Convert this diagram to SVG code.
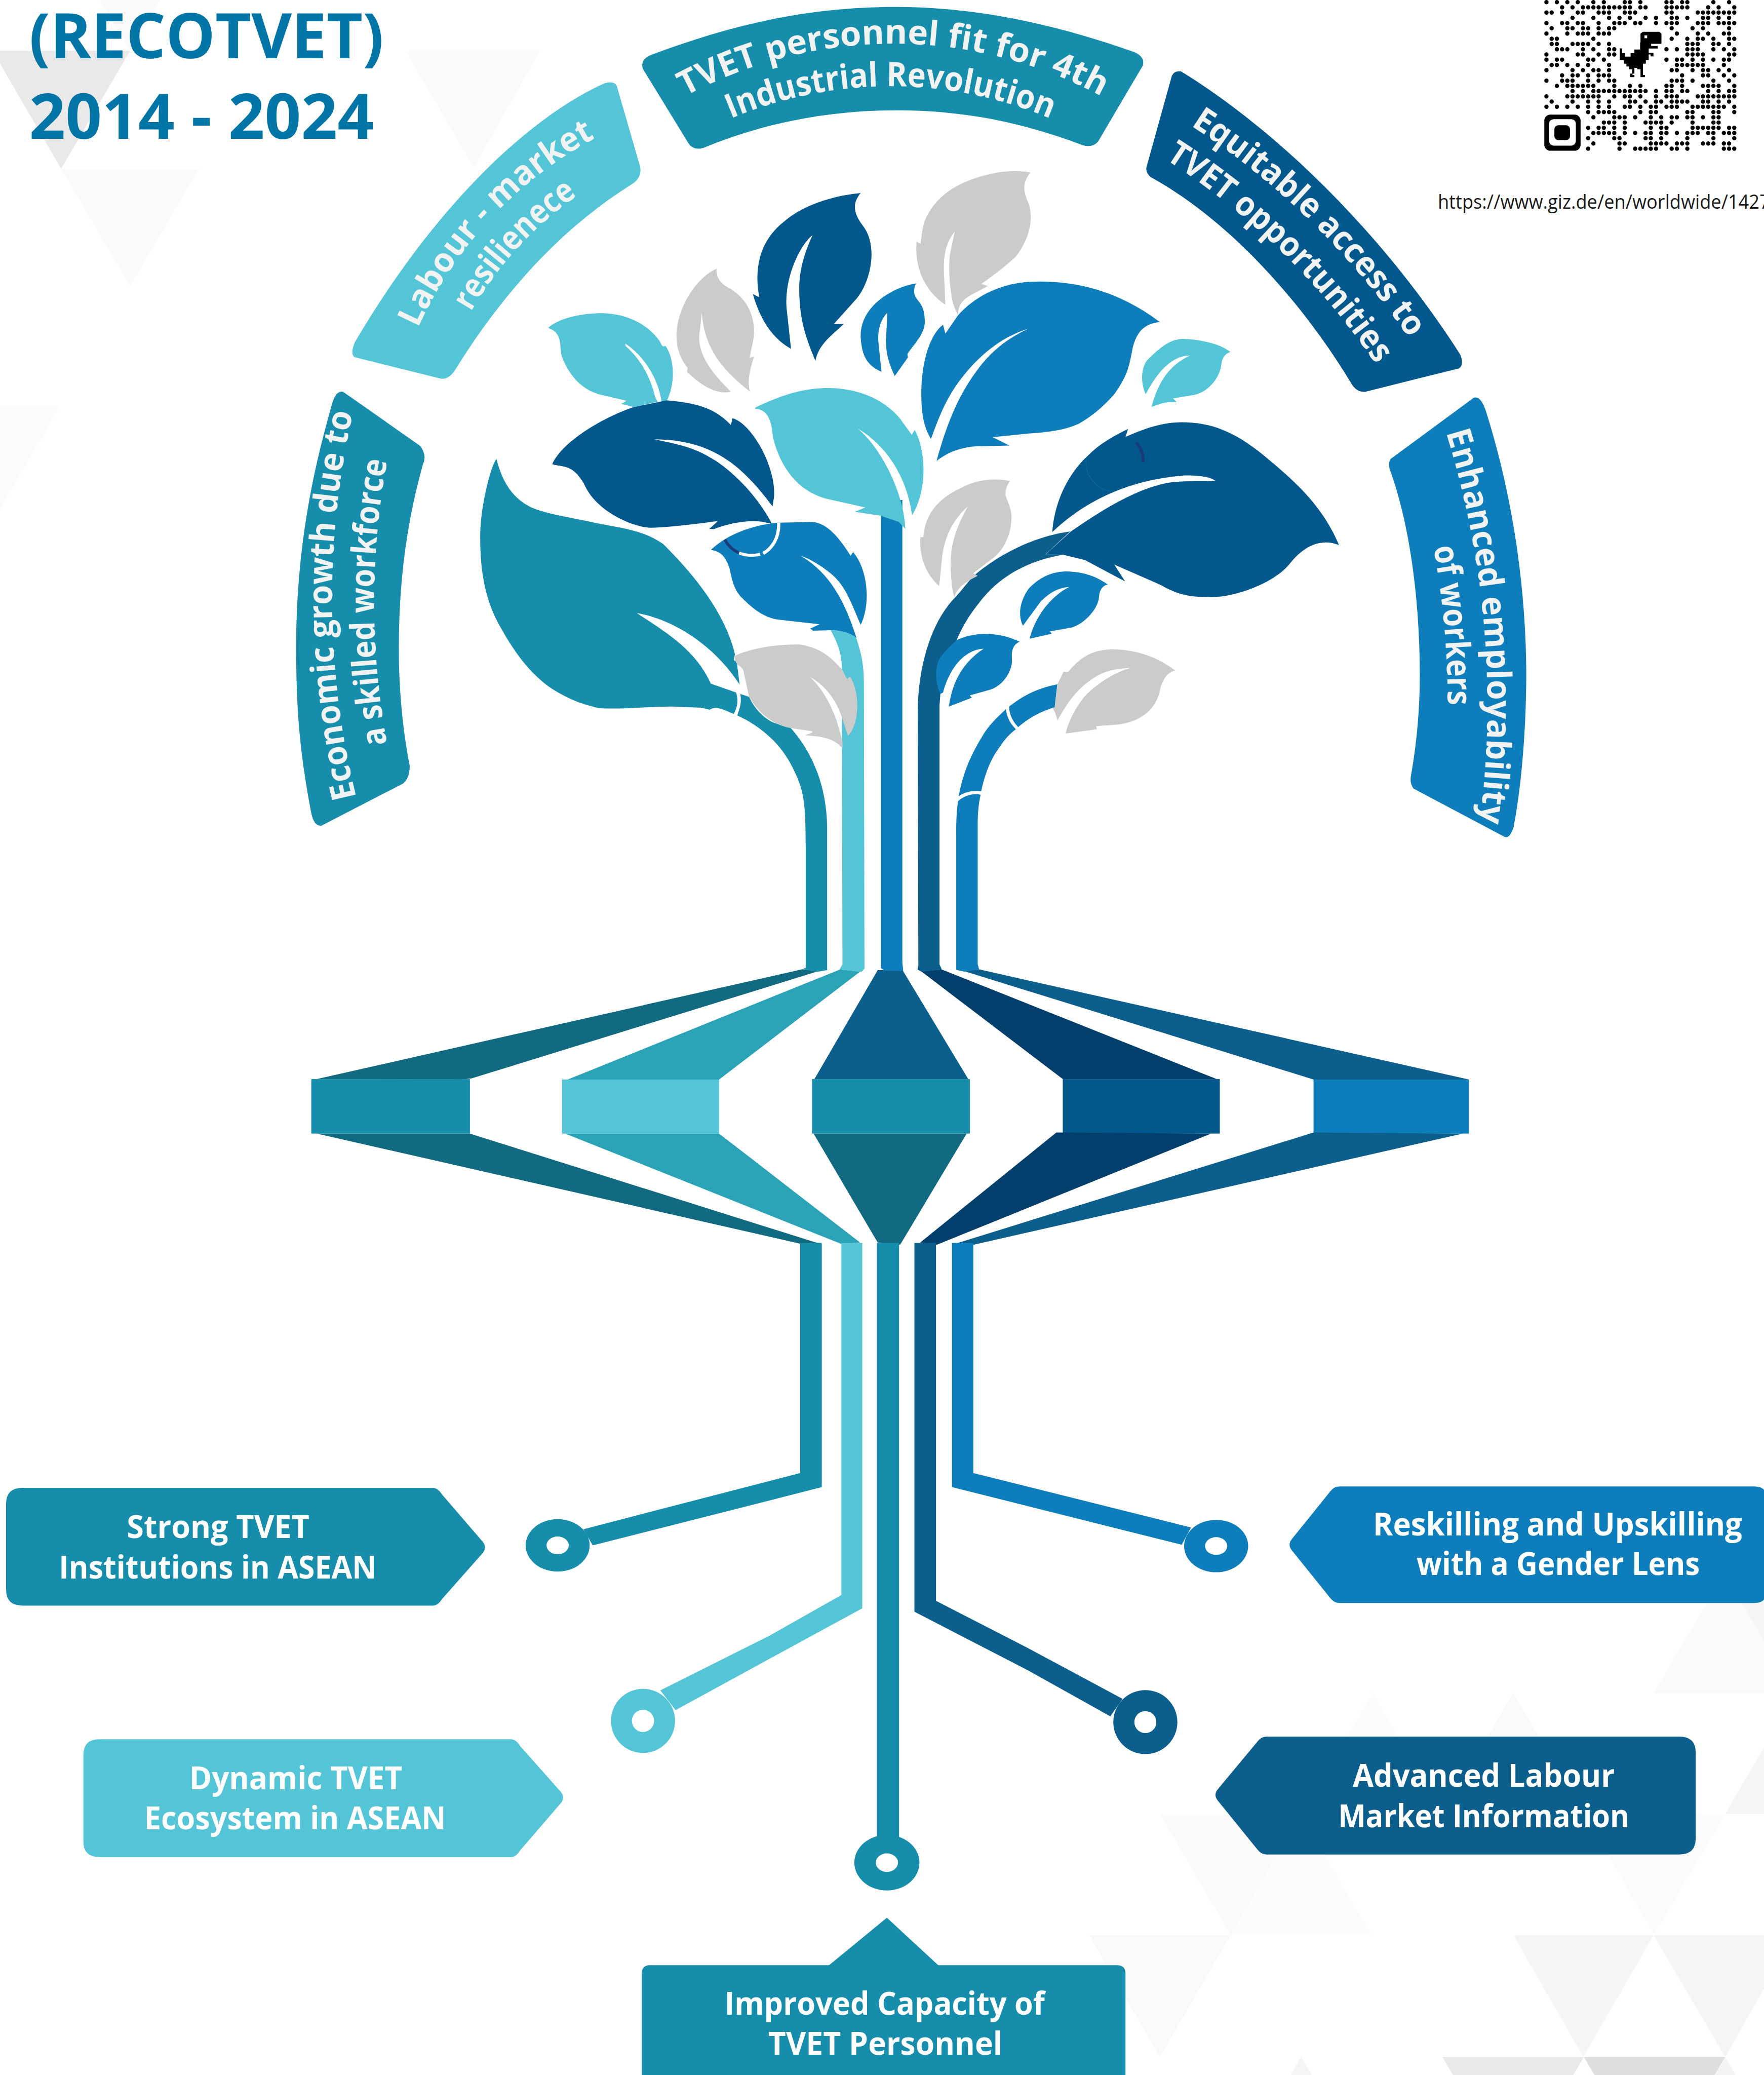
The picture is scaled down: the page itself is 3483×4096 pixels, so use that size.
<svg xmlns="http://www.w3.org/2000/svg" width="3483" height="4096" viewBox="0 0 3483 4096">
<style>
.teal{fill:#168eab}.light{fill:#54c5d7}.blue{fill:#0d7dbb}.dark{fill:#02578d}.mid{fill:#0c5f8c}.grey{fill:#cbcbcb}.dteal{fill:#116a80}.mteal{fill:#2aa3b7}.navy{fill:#033f6c}
text{font-family:"Open Sans","Liberation Sans",sans-serif}
.t{font-size:24px;font-weight:700;fill:#fff;text-anchor:middle}
.b{font-size:25.5px;font-weight:700;fill:#f1f2f2;text-anchor:middle}
.title{font-size:47.5px;font-weight:700;fill:#0275a7}
</style>
<defs>
<path id="a1" d="M505,80A331,331 0 0 1 845,80"/>
<path id="a2" d="M538,96A311,311 0 0 1 808,96"/>
<path id="a3" d="M292.8,325.3A305,305 0 0 1 525.4,75.8"/>
<path id="a4" d="M328.4,301.8A275,275 0 0 1 500,114.6"/>
<path id="a5" d="M305.4,707.8A629,629 0 0 1 301,206"/>
<path id="a6" d="M338,704A589,589 0 0 1 338,206"/>
<path id="a7" d="M781,35.5A588,588 0 0 1 1127,373"/>
<path id="a8" d="M770.2,65.5A556,556 0 0 1 1097.3,384.2"/>
<path id="a9" d="M996,132A689,689 0 0 1 1062.4,816.7"/>
<path id="a10" d="M974.8,154A659,659 0 0 1 1033.7,807.4"/>
</defs>
<rect width="3483" height="4096" fill="#fff"/>
<g transform="scale(2.6129)">
<g id="background">
<polygon points="0,38.4 98.3,38.4 46.2,127.5 0,48" fill="#e9e9e9"/>
<polygon points="46.2,127.5 150.5,127.5 98.3,216.3" fill="#fafafa"/>
<polygon points="75.5,0 121,0 98.3,38.4" fill="#fafafa"/>
<polygon points="306.4,38.4 408,38.4 358,127" fill="#fafafa"/>
<polygon points="0,307 45,307 0,385" fill="#fbfbfb"/>
<polygon points="1303,1188 1249.6,1279.2 1356,1279.2" fill="#fafafa"/>
<polygon points="1303,1188 1410,1188 1356,1279.2" fill="#f5f5f5"/>
<polygon points="1143.5,1279 1090,1370.4 1196.9,1370.4" fill="#f9f9f9"/>
<polygon points="1196.9,1370.4 1303.7,1370.4 1250,1462" fill="#fbfbfb"/>
<polygon points="1357,1279 1303.7,1370.4 1410,1370.4" fill="#f5f5f5"/>
<polygon points="1037.4,1279 983.2,1370.4 1090,1370.4" fill="#fcfcfc"/>
<polygon points="876.5,1370.4 983.2,1370.4 929.9,1462" fill="#fafafa"/>
<polygon points="929.9,1462 1036.7,1462 983.2,1370.4" fill="#fcfcfc"/>
<polygon points="823,1462 929.9,1462 876.5,1554" fill="#f9f9f9"/>
<polygon points="1143.5,1462 1249.6,1462 1196.5,1554" fill="#f6f6f6"/>
<polygon points="1249.6,1462 1356,1462 1303.7,1554" fill="#f5f5f5"/>
<polygon points="1090,1554 1196.9,1554 1143.5,1645" fill="#e9e9e9"/>
<polygon points="1196.9,1554 1303.7,1554 1250,1645" fill="#dedede"/>
<polygon points="983.2,1554 929.9,1645 1036.7,1645" fill="#f5f5f5"/>
<polygon points="1303.7,1554 1250,1645 1357,1645" fill="#f4f4f4"/>
</g>
<g id="title">
<text class="title" x="22" y="43.9" textLength="268" lengthAdjust="spacingAndGlyphs">(RECOTVET)</text>
<text class="title" x="22" y="104.9" textLength="260.5" lengthAdjust="spacingAndGlyphs">2014 - 2024</text>
</g>
<g id="connectors">
<g transform="translate(189.84,711.9) scale(.6054,.16144)">
<polygon class="dteal" points="688,126 708,135 275,637 262,642 82,640"/>
<rect class="teal" x="75" y="640" width="198" height="255"/>
<polygon class="dteal" points="82,895 273,895 705,1405 712,1407 685,1410"/>
<polygon class="mteal" points="735,127 760,137 584,642 395,642"/>
<rect class="light" x="388" y="642" width="196" height="253"/>
<polygon class="mteal" points="392,895 584,895 760,1405 737,1412"/>
<polygon class="mid" points="782,130 813,130 895,640 703,640"/>
<rect class="teal" x="700" y="640" width="197" height="255"/>
<polygon class="dteal" points="702,895 893,895 810,1415 782,1405"/>
<polygon class="navy" points="836,135 862,127 1205,640 1013,640"/>
<rect class="dark" x="1013" y="640" width="196" height="255"/>
<polygon class="navy" points="1005,890 1198,895 856,1415 835,1405"/>
<polygon class="mid" points="890,135 908,126 1520,642 1326,642"/>
<rect class="blue" x="1326" y="642" width="194" height="253"/>
<polygon class="mid" points="1326,890 1512,895 902,1415 875,1415"/>
</g>
<polygon class="teal" points="604.7,939 621,939 621,1123.5 447.9,1167.5 440.9,1155.3 604.7,1112.8"/>
<ellipse class="teal" cx="421.4" cy="1167.5" rx="24.2" ry="19.8"/><ellipse cx="421.4" cy="1167.5" rx="8.4" ry="6.7" fill="#fff"/>
<polygon class="light" points="635.8,939 651.6,939 651.6,1215 580,1254 510.5,1292 499,1277 581,1236 635.8,1205"/>
<circle class="light" cx="485.9" cy="1300.1" r="24.2"/><circle cx="485.9" cy="1300.1" r="8.4" fill="#fff"/>
<rect class="teal" x="662.7" y="939" width="16.7" height="450"/>
<ellipse class="teal" cx="670.2" cy="1407.2" rx="24.6" ry="21"/><ellipse cx="670.2" cy="1407.2" rx="8.4" ry="7" fill="#fff"/>
<polygon class="mid" points="691,939 707.3,939 707.3,1209.4 776.6,1245 848.3,1283.4 839,1296.6 777,1262 691,1217.6"/>
<circle class="mid" cx="865.5" cy="1301" r="24.2"/><circle cx="865.5" cy="1301" r="8.3" fill="#fff"/>
<polygon class="blue" points="719.4,939 735.5,939 735.5,1112.8 900,1154 893,1167 719.4,1123.5"/>
<ellipse class="blue" cx="919" cy="1168" rx="24.2" ry="19.8"/><ellipse cx="919" cy="1168" rx="8.4" ry="6.7" fill="#fff"/>
</g>
<g id="tree">
<g transform="translate(348.05,395.5) scale(.22197)">
<path class="blue" d="M1431,-80H1504V1495L1507,1522H1445L1431,1513Z"/>
<path class="light" d="M1260,363C1285,410 1298,445 1298,495L1300,1500L1290,1518L1365,1526L1375,1515L1373,540C1373,470 1360,430 1347,390C1325,370 1300,365 1260,363Z"/>
<path class="teal" d="M952,580C958,610 950,630 942,653C1000,680 1080,730 1130,830C1170,910 1175,950 1175,1100L1175,1512L1165,1516L1212,1526L1248,1520L1248,1030C1245,880 1190,770 1125,697C1110,685 1090,688 1060,675C1030,660 1000,630 982,590Z"/>
<path class="teal" d="M122,-220C100,-190 68,-50 67,30C65,150 80,260 140,360C190,450 240,510 300,555C360,595 410,615 470,628C550,634 650,622 720,623L820,627L848,634C870,620 885,630 930,648C945,620 945,600 938,575L852,545C800,430 700,370 600,305C720,325 860,410 950,548L940,470L930,465L934,445C900,300 790,170 690,70C620,20 540,15 460,-2C380,-20 300,-30 240,-55C170,-90 140,-150 122,-220Z"/>
<path class="grey" d="M934,450C1000,420 1090,410 1155,412C1240,425 1270,470 1298,495L1316,530L1325,520C1360,570 1360,680 1319,723L1300,665C1280,600 1240,550 1190,522C1240,570 1265,630 1280,670L1300,740L1300,765C1270,730 1230,725 1173,721L1197,712L1197,707L1122,696C1060,685 1010,640 982,590L965,510C960,480 940,490 934,462Z"/>
<path class="blue" d="M852,90C900,45 970,10 1077,-3L1200,-5C1250,0 1290,50 1328,110L1336,97C1390,160 1395,280 1362,345C1330,270 1310,210 1260,170C1230,145 1190,120 1158,110C1260,170 1310,270 1348,390C1325,370 1290,363 1260,363L1200,365L1190,358L1222,343L1080,327C1030,320 990,285 960,255C930,225 925,195 915,150C900,110 885,95 852,90Z"/>
<path d="M1083,-3C1085,50 1060,85 1030,102" fill="none" stroke="#fff" stroke-width="11"/>
<path d="M1020,105C1000,110 970,110 948,100" fill="none" stroke="#fff" stroke-width="10"/>
<path d="M948,100C925,90 910,75 900,55" fill="none" stroke="#1a3a7a" stroke-width="10"/>
</g>
<g transform="translate(348.05,120.23) scale(.22197,.2018)">
<path class="dark" d="M1362,127C1290,135 1180,160 1100,235C1030,295 995,390 1017,517L995,505C1020,600 1060,670 1125,710L1110,560C1100,440 1160,315 1198,285C1150,400 1150,470 1155,540C1160,620 1180,680 1208,755C1220,690 1265,660 1304,617L1270,618L1350,520C1400,450 1420,320 1370,250C1340,205 1330,170 1362,127Z"/>
<path class="grey" d="M872,410C800,445 735,560 735,665C735,710 750,750 773,782L771,796C810,840 870,885 920,870C850,795 800,720 815,640L821,575C830,700 880,780 985,870C975,830 985,790 999,738L984,745C990,700 1000,680 999,635C995,560 960,510 910,480C885,465 868,440 872,410Z"/>
<path class="light" d="M298,632C340,590 430,575 490,577C570,580 640,620 680,685C685,700 690,705 697,698C725,740 735,830 702,905L684,908C675,830 630,740 560,690L562,700C620,755 650,830 662,890L671,908L590,928L547,916L566,905L470,880C410,860 370,810 345,740C335,700 350,650 298,632Z"/>
<path class="dark" d="M702,903C790,912 860,925 920,995L926,970C990,990 1075,1150 1067,1265L1062,1300C960,1150 860,1050 659,1049C780,1075 810,1090 870,1130C950,1190 1020,1280 1060,1365L1025,1357C970,1350 910,1365 862,1385L847,1384L876,1355C830,1362 720,1378 650,1380C590,1380 460,1320 420,1215C380,1140 350,1155 312,1142C350,1050 500,960 590,928Z"/>
<path class="light" d="M1003,930C1080,890 1160,855 1260,857C1370,860 1450,910 1495,970L1536,1032L1546,1014C1585,1090 1590,1240 1537,1333C1520,1200 1460,1080 1352,1008C1440,1090 1510,1260 1514,1384L1492,1358L1430,1335L1342,1320L1378,1304L1240,1270C1150,1240 1090,1160 1063,1040C1060,980 1045,935 1003,935Z"/>
<path class="blue" d="M1551,465C1470,480 1360,550 1362,665C1365,720 1375,770 1433,796L1422,680C1420,640 1430,600 1453,575L1448,680C1448,730 1460,770 1478,812L1523,742L1521,730C1545,690 1585,650 1580,600C1580,540 1550,530 1545,505C1543,490 1545,475 1551,465Z"/>
</g>
<g transform="translate(664.45,120.23) scale(.22197,.2018)">
<path class="grey" d="M515,50C470,40 420,45 380,55C260,85 190,140 155,230C145,260 145,290 140,318L127,309C120,400 150,490 225,545L220,420C218,350 230,310 257,270L240,360C235,420 240,480 250,535C255,555 262,570 268,585C268,550 280,530 310,510L370,475L347,467C390,435 430,400 465,365C510,300 525,230 510,170C490,120 485,90 515,50Z"/>
<path class="blue" d="M268,585C320,520 400,470 500,460C640,450 800,480 955,610C900,615 875,650 862,710C850,780 845,810 800,880C760,930 720,965 680,990C620,1020 560,1022 500,1028L386,1041L443,1072L330,1075C270,1080 230,1100 195,1130C230,990 270,880 340,780C390,710 440,670 507,635C430,660 350,720 280,820C230,890 205,960 176,1047C150,1000 143,950 143,870C145,760 170,660 217,620L225,653Z"/>
<path class="light" d="M1195,722C1160,690 1090,675 1035,673C990,672 950,710 910,755C890,790 890,840 907,880C940,810 990,735 1058,735C990,770 950,830 927,927C950,920 965,910 990,910L1013,910L1000,896L1075,882C1120,870 1160,820 1165,765C1168,745 1175,730 1195,722Z"/>
</g>
<g transform="translate(664.45,395.5) scale(.22197)">
<path class="mid" d="M650,27C520,45 400,110 320,180C300,200 280,230 250,260C170,350 130,500 131,650L133,1505L130,1518L145,1526L213,1518L205,1500V620L208,580L263,397C285,350 300,320 340,270C400,190 490,130 625,106L566,105Z"/>
<path class="blue" d="M263,397C320,370 400,365 478,402C450,415 450,440 452,470C448,510 420,550 380,565L308,585L315,593L237,623C250,530 290,470 355,426C290,430 240,490 217,575L208,580C190,540 190,500 200,470C215,440 240,420 263,397Z"/>
<path class="blue" d="M778,207C730,175 690,165 640,163C590,163 550,180 510,220C480,260 470,310 489,348L550,265C580,235 610,218 646,216C580,250 530,320 512,392L587,375L581,367L655,354C700,340 745,290 748,250C750,225 760,212 778,207Z"/>
<path class="grey" d="M1008,500C940,450 870,428 790,428C720,430 680,460 643,505L627,505L607,546L598,620L590,630L597,640L607,670C640,610 670,570 710,540C760,500 800,495 855,491C790,510 720,560 690,600C665,635 645,670 634,715L741,700L738,690C780,685 830,690 880,665C930,640 950,600 957,560C970,520 985,505 1008,500Z"/>
<path class="blue" d="M606,547C540,560 490,585 442,623C442,650 455,675 473,693C510,660 550,640 597,625Z"/>
<path class="blue" d="M431,632C400,660 370,690 350,725C310,790 285,850 270,928C295,912 320,908 347,911C360,850 380,800 410,760C430,730 445,715 465,700C445,680 435,660 431,632Z"/>
<path class="blue" d="M345,923C320,918 290,925 268,945C262,990 262,1020 262,1060L262,1519L290,1525L340,1518L335,1500L335,1030C335,990 337,960 345,923Z"/>
</g>
<g transform="translate(664.45,120.23) scale(.22197,.2018)">
<path class="grey" d="M445,1205C400,1195 340,1195 280,1230C200,1270 155,1330 150,1415H140C135,1500 165,1560 204,1598L215,1480C225,1410 250,1350 302,1300C260,1380 240,1450 243,1530C245,1590 250,1620 256,1640C265,1600 300,1580 335,1560L320,1550L380,1500C420,1470 450,1410 450,1340C450,1310 440,1290 430,1260C428,1240 435,1220 445,1205Z"/>
<path class="dark" d="M589,1396C595,1290 640,1180 710,1110C750,1065 800,1035 847,1010L838,1040C900,1010 960,985 1030,985C1130,985 1210,1020 1310,1110C1420,1210 1510,1300 1565,1445C1510,1420 1450,1440 1395,1518C1340,1590 1200,1645 1120,1639C1040,1640 1000,1620 960,1595L800,1518L837,1581L700,1501L625,1481L566,1480L652,1394C750,1320 850,1250 950,1220C1000,1205 1040,1205 1145,1205C1130,1190 1090,1183 1040,1184C850,1200 700,1280 589,1396Z"/>
<path d="M875,1060C890,1080 900,1105 898,1135" fill="none" stroke="#1a3a7a" stroke-width="10"/>
<path d="M705,1120C695,1180 740,1240 790,1243" fill="none" stroke="#0c6d9c" stroke-width="2"/>
</g>
</g>
<g id="banner-personnel">
<path class="teal" transform="translate(474.6,0) scale(.2623,.1055)" d="M70,390C280,195 500,50 770,50C1020,50 1250,190 1460,375Q1490,410 1483,470L1355,1010Q1340,1060 1310,1040C1130,870 960,790 770,790C580,790 390,880 218,1058Q190,1080 175,1030L42,490Q35,420 70,390Z"/>
<text class="b"><textPath href="#a1" startOffset="50%" textLength="328" lengthAdjust="spacingAndGlyphs">TVET personnel fit for 4th</textPath></text>
<text class="b"><textPath href="#a2" startOffset="50%" textLength="248" lengthAdjust="spacingAndGlyphs">Industrial Revolution</textPath></text>
</g>
<g id="banner-labour">
<path class="light" transform="translate(205.7,47.5) scale(.2018,.3834)" d="M310,550C600,290 950,110 1245,40Q1280,35 1290,45L1378,205Q1385,225 1350,238C1100,320 880,440 685,605Q660,625 630,622L310,580Q290,575 310,550Z"/>
<text class="b"><textPath href="#a3" startOffset="50%" textLength="200" lengthAdjust="spacingAndGlyphs">Labour - market</textPath></text>
<text class="b"><textPath href="#a4" startOffset="50%" textLength="120" lengthAdjust="spacingAndGlyphs">resilienece</textPath></text>
</g>
<g id="banner-economic">
<path class="teal" transform="translate(205.7,47.5) scale(.2018,.3834)" d="M220,680Q235,645 265,648L555,755Q580,775 565,790C490,930 470,1060 475,1190C480,1270 495,1330 515,1385Q515,1410 490,1420L185,1503Q155,1505 145,1475C100,1350 88,1260 90,1130C95,950 150,810 220,680Z"/>
<text class="b"><textPath href="#a5" startOffset="50%" textLength="293" lengthAdjust="spacingAndGlyphs">Economic growth due to</textPath></text>
<text class="b"><textPath href="#a6" startOffset="50%" textLength="215" lengthAdjust="spacingAndGlyphs">a skilled workforce</textPath></text>
</g>
<g id="banner-equitable">
<path class="dark" transform="translate(854.3,47.5) scale(.2018,.3834)" d="M155,25Q165,15 190,17C480,110 900,300 1235,575Q1250,595 1230,602L880,648Q845,650 825,630C640,470 370,310 75,225Q55,215 60,205Z"/>
<text class="b"><textPath href="#a7" startOffset="50%" textLength="232" lengthAdjust="spacingAndGlyphs">Equitable access to</textPath></text>
<text class="b"><textPath href="#a8" startOffset="50%" textLength="224" lengthAdjust="spacingAndGlyphs">TVET opportunities</textPath></text>
</g>
<g id="banner-enhanced">
<path class="blue" transform="translate(854.3,47.5) scale(.2018,.3834)" d="M975,780L1285,660Q1310,655 1330,685C1430,850 1480,1030 1482,1200C1482,1310 1465,1420 1435,1505Q1420,1530 1400,1525L1060,1430Q1045,1420 1050,1405C1075,1330 1085,1260 1083,1190C1080,1040 1040,900 970,800Q965,785 975,780Z"/>
<text class="b"><textPath href="#a9" startOffset="51%" textLength="298" lengthAdjust="spacingAndGlyphs">Enhanced employability</textPath></text>
<text class="b"><textPath href="#a10" startOffset="50%" textLength="120" lengthAdjust="spacingAndGlyphs">of workers</textPath></text>
</g>
<g id="node-strong">
<path class="teal" d="M17,1124H327Q331,1124 334,1129L365,1165Q368,1169 365,1173L334,1208Q331,1213 327,1213H17Q4.6,1213 4.6,1201V1136Q4.6,1124 17,1124Z"/>
<text class="t" x="164.8" y="1162" textLength="138" lengthAdjust="spacingAndGlyphs">Strong TVET</text>
<text class="t" x="164.5" y="1192.7" textLength="240" lengthAdjust="spacingAndGlyphs">Institutions in ASEAN</text>
</g>
<g id="node-dynamic">
<path class="light" d="M75,1314H386Q390,1314 393,1319L424,1354Q427,1358 424,1362L393,1398Q390,1403 386,1403H75Q63,1403 63,1391V1326Q63,1314 75,1314Z"/>
<text class="t" x="223.5" y="1351.7" textLength="161" lengthAdjust="spacingAndGlyphs">Dynamic TVET</text>
<text class="t" x="223" y="1382" textLength="228" lengthAdjust="spacingAndGlyphs">Ecosystem in ASEAN</text>
</g>
<g id="node-improved">
<path class="teal" d="M491,1484.7H626.5L670.2,1448.8L709,1484.7H844Q850.5,1484.7 850.5,1491V1570H485V1491Q485,1484.7 491,1484.7Z"/>
<text class="t" x="668.5" y="1522" textLength="242" lengthAdjust="spacingAndGlyphs">Improved Capacity of</text>
<text class="t" x="669" y="1552.3" textLength="177" lengthAdjust="spacingAndGlyphs">TVET Personnel</text>
</g>
<g id="node-advanced">
<path class="mid" d="M957,1312H1269Q1281.4,1312 1281.4,1324V1389Q1281.4,1401 1269,1401H957Q953,1401 950,1397L920,1360Q917,1356 920,1352L950,1316Q953,1312 957,1312Z"/>
<text class="t" x="1121.2" y="1350" textLength="198" lengthAdjust="spacingAndGlyphs">Advanced Labour</text>
<text class="t" x="1121.2" y="1380.5" textLength="220" lengthAdjust="spacingAndGlyphs">Market Information</text>
</g>
<g id="node-reskilling">
<path class="blue" d="M1012,1123H1326Q1336,1123 1336,1135V1199Q1336,1211 1326,1211H1012Q1008,1211 1005,1207L976,1171Q973,1167 976,1163L1005,1127Q1008,1123 1012,1123Z"/>
<text class="t" x="1177" y="1160" textLength="279" lengthAdjust="spacingAndGlyphs">Reskilling and Upskilling</text>
<text class="t" x="1177.5" y="1190" textLength="214" lengthAdjust="spacingAndGlyphs">with a Gender Lens</text>
</g>
<g id="qr">
<path transform="translate(1168.6,1.6) scale(3.943,3.955)" fill="none" stroke="#000" stroke-width=".82" stroke-linecap="round" d="M0 0h0M2 0h0M4 0h0M6 0h0M9 0h0M11 0h0M15 0h0M16 0h0M18 0h0M23 0h0M24 0h0M26 0h0M27 0h0M32 0h0M35 0h0
M3 1h0M5 1h0M7 1h0M8 1h0M9 1h0M10 1h0M11 1h0M12 1h0M13 1h0M14 1h0M15 1h0M16 1h0M18 1h0M19 1h0M23 1h0M24 1h0M25 1h0M26 1h0M27 1h0M31 1h0M33 1h0M36 1h0
M0 2h0M1 2h0M3 2h0M6 2h0M7 2h0M10 2h0M11 2h0M12 2h0M15 2h0M16 2h0M17 2h0M23 2h0M24 2h0M29 2h0M30 2h0M31 2h0M32 2h0M33 2h0M34 2h0M35 2h0M36 2h0
M5 3h0M9 3h0M12 3h0M14 3h0M16 3h0M19 3h0M21 3h0M24 3h0M25 3h0M27 3h0M30 3h0M31 3h0M33 3h0M35 3h0
M0 4h0M3 4h0M4 4h0M6 4h0M7 4h0M10 4h0M13 4h0M14 4h0M15 4h0M17 4h0M18 4h0M21 4h0M23 4h0M24 4h0M25 4h0M29 4h0M30 4h0M31 4h0M33 4h0M34 4h0M35 4h0M36 4h0
M1 5h0M4 5h0M5 5h0M7 5h0M8 5h0M10 5h0M12 5h0M13 5h0M24 5h0M28 5h0M30 5h0M35 5h0
M0 6h0M4 6h0M6 6h0M7 6h0M8 6h0M10 6h0M11 6h0M12 6h0M25 6h0M29 6h0M31 6h0M34 6h0M35 6h0
M1 7h0M2 7h0M9 7h0M24 7h0M27 7h0M29 7h0M30 7h0M32 7h0M35 7h0M36 7h0
M1 8h0M2 8h0M5 8h0M6 8h0M7 8h0M8 8h0M10 8h0M12 8h0M27 8h0M28 8h0M29 8h0M32 8h0M33 8h0M35 8h0
M2 9h0M3 9h0M4 9h0M7 9h0M9 9h0M12 9h0M13 9h0M23 9h0M25 9h0M27 9h0M28 9h0M29 9h0M32 9h0M34 9h0M36 9h0
M0 10h0M6 10h0M7 10h0M10 10h0M12 10h0M13 10h0M27 10h0M28 10h0M29 10h0M30 10h0M35 10h0M36 10h0
M0 11h0M2 11h0M3 11h0M8 11h0M9 11h0M11 11h0M23 11h0M25 11h0M26 11h0M28 11h0M30 11h0M32 11h0M34 11h0M35 11h0
M1 12h0M2 12h0M4 12h0M6 12h0M8 12h0M12 12h0M25 12h0M26 12h0M27 12h0M28 12h0M29 12h0M30 12h0M34 12h0
M0 13h0M5 13h0M7 13h0M9 13h0M10 13h0M12 13h0M24 13h0M25 13h0M28 13h0M30 13h0M31 13h0M33 13h0M35 13h0
M3 14h0M5 14h0M6 14h0M8 14h0M10 14h0M11 14h0M12 14h0M26 14h0M30 14h0M31 14h0M34 14h0M36 14h0
M0 15h0M3 15h0M4 15h0M5 15h0M8 15h0M10 15h0M12 15h0M13 15h0M24 15h0M25 15h0M26 15h0M28 15h0M32 15h0M35 15h0
M2 16h0M4 16h0M5 16h0M6 16h0M7 16h0M8 16h0M9 16h0M13 16h0M16 16h0M18 16h0M23 16h0M24 16h0M26 16h0M30 16h0M31 16h0M32 16h0M33 16h0M36 16h0
M5 17h0M7 17h0M9 17h0M10 17h0M11 17h0M12 17h0M13 17h0M14 17h0M15 17h0M16 17h0M17 17h0M18 17h0M19 17h0M21 17h0M23 17h0M24 17h0M26 17h0M27 17h0M31 17h0M33 17h0M35 17h0M36 17h0
M0 18h0M4 18h0M5 18h0M6 18h0M7 18h0M8 18h0M9 18h0M10 18h0M13 18h0M15 18h0M16 18h0M18 18h0M21 18h0M23 18h0M24 18h0M25 18h0M29 18h0M30 18h0M31 18h0M32 18h0M33 18h0M34 18h0M35 18h0M36 18h0
M1 19h0M5 19h0M8 19h0M10 19h0M12 19h0M16 19h0M17 19h0M19 19h0M21 19h0M22 19h0M24 19h0M25 19h0M26 19h0M27 19h0M30 19h0M31 19h0M33 19h0M35 19h0
M0 20h0M2 20h0M4 20h0M6 20h0M8 20h0M10 20h0M12 20h0M15 20h0M16 20h0M18 20h0M20 20h0M21 20h0M23 20h0M24 20h0M25 20h0M28 20h0M29 20h0M30 20h0M31 20h0M32 20h0M33 20h0M34 20h0M36 20h0
M8 21h0M10 21h0M11 21h0M12 21h0M13 21h0M18 21h0M20 21h0M21 21h0M27 21h0M28 21h0M32 21h0M33 21h0M36 21h0
M9 22h0M13 22h0M14 22h0M15 22h0M17 22h0M20 22h0M22 22h0M24 22h0M25 22h0M27 22h0M28 22h0M30 22h0M32 22h0M33 22h0
M11 23h0M12 23h0M13 23h0M15 23h0M19 23h0M20 23h0M21 23h0M22 23h0M24 23h0M28 23h0M32 23h0M33 23h0
M8 24h0M10 24h0M11 24h0M13 24h0M15 24h0M20 24h0M22 24h0M23 24h0M28 24h0M29 24h0M30 24h0M31 24h0M32 24h0M33 24h0M35 24h0M36 24h0
M9 25h0M10 25h0M11 25h0M12 25h0M13 25h0M15 25h0M17 25h0M19 25h0M20 25h0M22 25h0M23 25h0M25 25h0M27 25h0M28 25h0M29 25h0M31 25h0M32 25h0M34 25h0M35 25h0M36 25h0
M8 26h0M13 26h0M14 26h0M19 26h0M20 26h0M22 26h0M27 26h0M32 26h0M36 26h0
M9 27h0M14 27h0M15 27h0M20 27h0M21 27h0M22 27h0M23 27h0M25 27h0M26 27h0M27 27h0M30 27h0M31 27h0M32 27h0M34 27h0M35 27h0
M8 28h0M14 28h0M17 28h0M18 28h0M19 28h0M20 28h0M21 28h0M24 28h0M25 28h0M27 28h0M34 28h0M35 28h0M36 28h0"/>
<rect x="1167" y="86.6" width="27.4" height="27.3" rx="4.5"/>
<rect x="1170.6" y="90" width="20.2" height="20" rx="3.5" fill="#fff"/>
<rect x="1174.6" y="94.6" width="11.8" height="11.2" rx="3"/>
<g transform="translate(1107,0) scale(.1439,.1069)">
<path d="M935,225H1020L1032,237V310H978V325H1012V343H965V372H990V398H975V385H965V425H950V450H935V530H945V545H922V490H905V480H890V520H880V530H890V545H868V520H878V490H862V470H848V450H835V425H813V342H825V375H840V400H870V375H890V350H920V300H922V237Z"/>
<rect x="943" y="250" width="14" height="20" fill="#fff"/>
</g>
<text x="1086.5" y="157.5" style="font-size:14.5px;fill:#1a1a1a" textLength="251" lengthAdjust="spacingAndGlyphs">https://www.giz.de/en/worldwide/1427</text>
</g>
</g>
</svg>
